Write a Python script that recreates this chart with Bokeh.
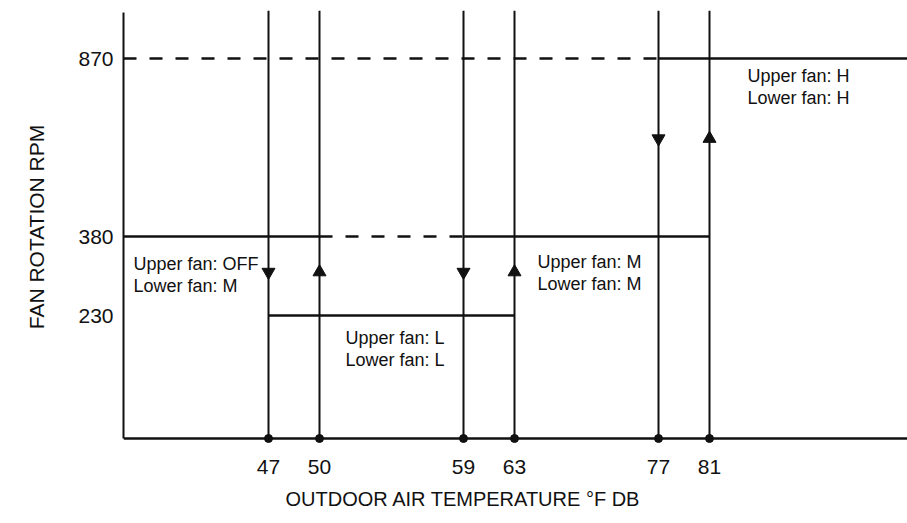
import numpy as np
from bokeh.plotting import figure
from bokeh.models import ColumnDataSource, Range1d, FixedTicker, LinearInterpolator, Title
from bokeh.transform import transform
from bokeh.core.properties import value
from bokeh.embed import file_html
from bokeh.resources import INLINE

# ------------------------------------------------------------------ data
SWITCH_TEMPS = [47, 50, 59, 63, 77, 81]          # outdoor air temperature, °F DB
RPM_LEVELS = [230, 380, 870]                      # fan rotation rpm levels

# vertical switching lines: rpm before -> rpm after at each switch temperature
TRANS_FROM = [380, 230, 380, 230, 870, 380]
TRANS_TO = [230, 380, 230, 380, 380, 870]

# schematic axis domain (the chart is not drawn to scale)
X_AXIS_START_T = 40
X_AXIS_END_T = 95
RPM_BASE = 0
RPM_AXIS_TOP = 1000

# horizontal operating levels: rpm, from temp, to temp, dashed?
LEVEL_RPM = [870, 870, 380, 380, 380, 230]
LEVEL_FROM = [X_AXIS_START_T, 77, X_AXIS_START_T, 50, 59, 47]
LEVEL_TO = [77, X_AXIS_END_T, 50, 59, 81, 63]
LEVEL_DASHED = [True, False, False, True, False, False]

# operating-region labels
UPPER_FAN = ["OFF", "L", "M", "H"]
LOWER_FAN = ["M", "L", "M", "H"]
LABEL_TEMP = [X_AXIS_START_T, 50, 63, 81]
LABEL_RPM = [380, 230, 380, 870]

X_TITLE = "OUTDOOR AIR TEMPERATURE °F DB"
Y_TITLE = "FAN ROTATION RPM"

# ------------------------------------------------------------------ layout (schematic scale)
X_KNOT_T = [X_AXIS_START_T] + SWITCH_TEMPS + [X_AXIS_END_T]
X_KNOT_POS = [0, 145, 196, 340, 391, 535, 586, 784]
Y_KNOT_RPM = [RPM_BASE] + RPM_LEVELS + [RPM_AXIS_TOP]
Y_KNOT_POS = [5, 128, 207, 385, 433]

LABEL_DX = [10, 26, 23, 38]
LABEL_DY = [27, 22, 25, 17]
LINE_GAP = 22
ARROW_FRAC = 0.45

FONT_NAME = "Liberation Sans"
FONT = value(FONT_NAME)
INK = "#111111"

x_map = LinearInterpolator(x=X_KNOT_T, y=X_KNOT_POS, clip=True)
y_map = LinearInterpolator(x=Y_KNOT_RPM, y=Y_KNOT_POS, clip=True)

p = figure(width=907, height=523,
           x_range=Range1d(X_KNOT_POS[0], X_KNOT_POS[-1]),
           y_range=Range1d(0, Y_KNOT_POS[-1]),
           min_border_left=123, min_border_right=0,
           min_border_top=10, min_border_bottom=80,
           output_backend="svg", toolbar_location=None, tools="")
p.outline_line_color = None
p.xgrid.visible = False
p.ygrid.visible = False
p.background_fill_color = "white"
p.border_fill_color = "white"

# vertical switching lines (full height)
vsrc = ColumnDataSource(dict(t=SWITCH_TEMPS,
                             r0=[RPM_BASE] * len(SWITCH_TEMPS),
                             r1=[RPM_AXIS_TOP] * len(SWITCH_TEMPS)))
p.segment(x0=transform("t", x_map), y0=transform("r0", y_map),
          x1=transform("t", x_map), y1=transform("r1", y_map),
          source=vsrc, line_color=INK, line_width=2)

# horizontal levels
def level_src(dashed):
    idx = [i for i, d in enumerate(LEVEL_DASHED) if d == dashed]
    return ColumnDataSource(dict(r=[LEVEL_RPM[i] for i in idx],
                                 t0=[LEVEL_FROM[i] for i in idx],
                                 t1=[LEVEL_TO[i] for i in idx]))

p.segment(x0=transform("t0", x_map), y0=transform("r", y_map),
          x1=transform("t1", x_map), y1=transform("r", y_map),
          source=level_src(False), line_color=INK, line_width=2.4)
p.segment(x0=transform("t0", x_map), y0=transform("r", y_map),
          x1=transform("t1", x_map), y1=transform("r", y_map),
          source=level_src(True), line_color=INK, line_width=2.4,
          line_dash="13 13")

# baseline (x axis)
bsrc = ColumnDataSource(dict(t0=[X_AXIS_START_T], t1=[X_AXIS_END_T], r=[RPM_BASE]))
p.segment(x0=transform("t0", x_map), y0=transform("r", y_map),
          x1=transform("t1", x_map), y1=transform("r", y_map),
          source=bsrc, line_color=INK, line_width=2.6)

# dots on the baseline at each switch temperature
dsrc = ColumnDataSource(dict(t=SWITCH_TEMPS, r=[RPM_BASE] * len(SWITCH_TEMPS)))
p.scatter(x=transform("t", x_map), y=transform("r", y_map), source=dsrc,
          size=8, marker="circle", fill_color=INK, line_color=INK)

# direction arrows on the switching lines
a_rpm = [max(a, b) - ARROW_FRAC * (max(a, b) - min(a, b)) for a, b in zip(TRANS_FROM, TRANS_TO)]
a_marker = ["inverted_triangle" if b < a else "triangle" for a, b in zip(TRANS_FROM, TRANS_TO)]
asrc = ColumnDataSource(dict(t=SWITCH_TEMPS, r=a_rpm, m=a_marker))
p.scatter(x=transform("t", x_map), y=transform("r", y_map), marker="m", source=asrc,
          size=13, fill_color=INK, line_color=INK)

# region labels
txt, tt, tr, dx, dy = [], [], [], [], []
for i in range(len(UPPER_FAN)):
    for k, s in enumerate([f"Upper fan: {UPPER_FAN[i]}", f"Lower fan: {LOWER_FAN[i]}"]):
        txt.append(s)
        tt.append(LABEL_TEMP[i])
        tr.append(LABEL_RPM[i])
        dx.append(LABEL_DX[i])
        dy.append(LABEL_DY[i] + k * LINE_GAP)
tsrc = ColumnDataSource(dict(text=txt, t=tt, r=tr, dx=dx, dy=dy))
p.text(x=transform("t", x_map), y=transform("r", y_map), text="text",
       x_offset="dx", y_offset="dy", source=tsrc,
       text_font=FONT, text_font_size="18px", text_color=INK,
       text_align="left", text_baseline="middle")

# axes
x_ticks = [int(round(v)) for v in np.interp(SWITCH_TEMPS, X_KNOT_T, X_KNOT_POS)]
y_ticks = [int(round(v)) for v in np.interp(RPM_LEVELS, Y_KNOT_RPM, Y_KNOT_POS)]

xa = p.xaxis[0]
xa.ticker = FixedTicker(ticks=x_ticks)
xa.major_label_overrides = {k: str(t) for k, t in zip(x_ticks, SWITCH_TEMPS)}
xa.axis_line_color = None
xa.major_tick_line_color = None
xa.minor_tick_line_color = None
xa.major_tick_out = 0
xa.major_label_standoff = 16
xa.major_label_text_font = FONT_NAME
xa.major_label_text_font_size = "21px"
xa.major_label_text_color = INK

ya = p.yaxis[0]
ya.ticker = FixedTicker(ticks=y_ticks)
ya.major_label_overrides = {k: str(r) for k, r in zip(y_ticks, RPM_LEVELS)}
ya.axis_line_color = INK
ya.axis_line_width = 2
ya.bounds = (Y_KNOT_POS[0], Y_KNOT_POS[-1] - 2)
ya.major_tick_line_color = None
ya.minor_tick_line_color = None
ya.major_tick_out = 0
ya.major_label_standoff = 10
ya.major_label_text_font = FONT_NAME
ya.major_label_text_font_size = "21px"
ya.major_label_text_color = INK
ya.axis_label = Y_TITLE
ya.axis_label_standoff = 27
ya.axis_label_text_font = FONT_NAME
ya.axis_label_text_font_size = "21px"
ya.axis_label_text_font_style = "normal"
ya.axis_label_text_color = INK

# x axis title (left-aligned under the tick labels, as in the original)
p.add_layout(Title(text=X_TITLE, align="left", offset=162, standoff=19,
                   text_font=FONT_NAME, text_font_size="20px",
                   text_font_style="normal", text_color=INK), "below")

open("out.html", "w").write(file_html(p, INLINE))
